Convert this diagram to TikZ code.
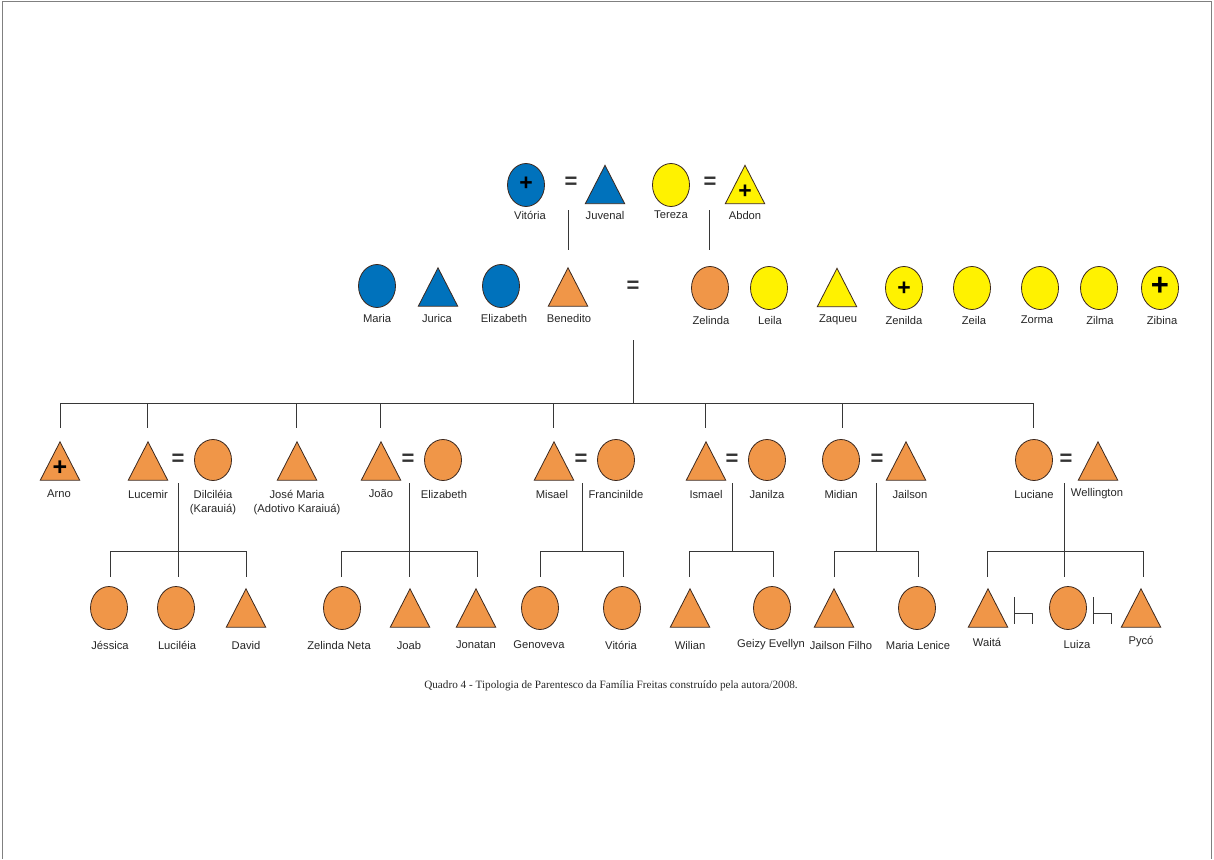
\documentclass[tikz,border=0pt]{standalone}
\usepackage{fontspec}
\setmainfont{Liberation Sans}
\newfontfamily\capfont{Liberation Serif}
\usetikzlibrary{shapes.geometric}
\definecolor{kblue}{RGB}{0,114,188}
\definecolor{kyel}{RGB}{255,242,0}
\definecolor{korg}{RGB}{240,150,72}
\definecolor{outl}{RGB}{60,40,30}
\definecolor{lnc}{RGB}{55,55,55}
\newcommand\kTri[4]{%
  \node[tribox] (#1) at (#2,#3) {};
  \filldraw[fill=#4, draw=outl, line width=0.8pt, line join=miter]
    (#1.south west) -- (#1.south east) -- (#1.north) -- cycle;}
\begin{document}
\begin{tikzpicture}[x=1pt,y=-1pt,
  lab/.style={font=\fontsize{11.2}{13.5}\selectfont, inner sep=0pt, text=black!85, align=center},
  fem/.style={ellipse, draw=outl, line width=0.8pt, minimum width=37pt, minimum height=43pt, inner sep=0pt},
  tribox/.style={rectangle, minimum width=39pt, minimum height=38pt, inner sep=0pt},
  eqs/.style={font=\fontsize{22}{22}\selectfont\bfseries, inner sep=0pt, text=black!80},
  dead/.style={font=\fontsize{23}{23}\selectfont\bfseries, inner sep=0pt, text=black},
  ln/.style={draw=lnc, line width=0.9pt},
]
\useasboundingbox (0,0) rectangle (1214,859);
\draw[draw=gray, line width=1pt] (2,859) -- (2,2) -- (1211.5,2) -- (1211.5,859);

% ---------- generation 1 ----------
\node[fem,fill=kblue] (vitoria) at (526,185) {};
\node[dead] (vitoria-x) at (526,184) {+};
\node[lab] (vitoria-l) at (530,215) {Vitória};
\node[eqs] (eq-a) at (571,183) {=};
\kTri{juvenal}{605}{184.5}{kblue}
\node[lab] (juvenal-l) at (605,215) {Juvenal};
\node[fem,fill=kyel] (tereza) at (671,185) {};
\node[lab] (tereza-l) at (671,215) {Tereza};
\node[eqs] (eq-b) at (710,183) {=};
\kTri{abdon}{745}{184.5}{kyel}
\node[dead] (abdon-x) at (745,192) {+};
\node[lab] (abdon-l) at (745,215) {Abdon};
\coordinate (ma1) at (568,210); \coordinate (ma2) at (568,250);
\coordinate (mb1) at (709,210); \coordinate (mb2) at (709,250);
\draw[ln] (ma1) -- (ma2);
\draw[ln] (mb1) -- (mb2);

% ---------- generation 2 ----------
\node[fem,fill=kblue] (maria) at (377,286) {};
\node[lab] (maria-l) at (377,318) {Maria};
\kTri{jurica}{438}{287}{kblue}
\node[lab] (jurica-l) at (437,318) {Jurica};
\node[fem,fill=kblue] (elizabeth1) at (501,286) {};
\node[lab] (elizabeth1-l) at (504,318) {Elizabeth};
\kTri{benedito}{568}{287}{korg}
\node[lab] (benedito-l) at (569,318) {Benedito};
\node[eqs] (eq-c) at (633,287) {=};
\node[fem,fill=korg] (zelinda) at (710,288) {};
\node[lab] (zelinda-l) at (711,320) {Zelinda};
\node[fem,fill=kyel] (leila) at (769,288) {};
\node[lab] (leila-l) at (770,320) {Leila};
\kTri{zaqueu}{837}{287.5}{kyel}
\node[lab] (zaqueu-l) at (838,320) {Zaqueu};
\node[fem,fill=kyel] (zenilda) at (904,288) {};
\node[dead] (zenilda-x) at (904,289) {+};
\node[lab] (zenilda-l) at (904,320) {Zenilda};
\node[fem,fill=kyel] (zeila) at (972,288) {};
\node[lab] (zeila-l) at (974,320) {Zeila};
\node[fem,fill=kyel] (zorma) at (1040,288) {};
\node[lab] (zorma-l) at (1037,320) {Zorma};
\node[fem,fill=kyel] (zilma) at (1099,288) {};
\node[lab] (zilma-l) at (1100,320) {Zilma};
\node[fem,fill=kyel] (zibina) at (1160,288) {};
\node[dead,font=\fontsize{31}{31}\selectfont\bfseries] (zibina-x) at (1160,286) {+};
\node[lab] (zibina-l) at (1162,320) {Zibina};

% main descent and sibling bus
\coordinate (dc1) at (633,340); \coordinate (dc2) at (633,403);
\draw[ln] (dc1) -- (dc2);
\coordinate (busL) at (60,403); \coordinate (busR) at (1033,403);
\draw[ln] (busL) -- (busR);
\foreach \x/\n in {60/arno,147/lucemir,296/josemaria,380/joao,553/misael,705/ismael,842/midian,1033/luciane}{
  \coordinate (t-\n) at (\x,403); \coordinate (b-\n) at (\x,428);
  \draw[ln] (t-\n) -- (b-\n);}

% ---------- generation 3 ----------
\kTri{arno}{60}{461}{korg}
\node[dead,font=\fontsize{25}{25}\selectfont\bfseries] (arno-x) at (60,468) {+};
\node[lab] (arno-l) at (59,494) {Arno};
\kTri{lucemir}{148}{461}{korg}
\node[lab] (lucemir-l) at (148,494) {Lucemir};
\node[eqs] (eq-d) at (178,460) {=};
\node[fem,fill=korg,minimum height=41pt] (dilcileia) at (213,460) {};
\node[lab] (dilcileia-l) at (213,502.5) {Dilciléia\\(Karauiá)};
\kTri{josemaria}{297}{461}{korg}
\node[lab] (josemaria-l) at (297,502.5) {José Maria\\(Adotivo Karaiuá)};
\kTri{joao}{381}{461}{korg}
\node[lab] (joao-l) at (381,494) {João};
\node[eqs] (eq-e) at (408,460) {=};
\node[fem,fill=korg,minimum height=41pt] (elizabeth2) at (443,460) {};
\node[lab] (elizabeth2-l) at (444,494) {Elizabeth};
\kTri{misael}{554}{461}{korg}
\node[lab] (misael-l) at (552,494) {Misael};
\node[eqs] (eq-f) at (581,460) {=};
\node[fem,fill=korg,minimum height=41pt] (francinilde) at (616,460) {};
\node[lab] (francinilde-l) at (616,494) {Francinilde};
\kTri{ismael}{706}{461}{korg}
\node[lab] (ismael-l) at (706,494) {Ismael};
\node[eqs] (eq-g) at (732,460) {=};
\node[fem,fill=korg,minimum height=41pt] (janilza) at (767,460) {};
\node[lab] (janilza-l) at (767,494) {Janilza};
\node[fem,fill=korg,minimum height=41pt] (midian) at (841,460) {};
\node[lab] (midian-l) at (841,494) {Midian};
\node[eqs] (eq-h) at (877,460) {=};
\kTri{jailson}{906}{461}{korg}
\node[lab] (jailson-l) at (910,494) {Jailson};
\node[fem,fill=korg,minimum height=41pt] (luciane) at (1034,460) {};
\node[lab] (luciane-l) at (1034,494) {Luciane};
\node[eqs] (eq-i) at (1066,460) {=};
\kTri{wellington}{1098}{461}{korg}
\node[lab] (wellington-l) at (1097,494) {Wellington};

% family descents
\foreach \x/\n/\e in {178/luc/577,409/joa/577,582/mis/551,732/ism/551,876/mid/551,1064/lci/577}{
  \coordinate (v1-\n) at (\x,483); \coordinate (v2-\n) at (\x,\e);
  \draw[ln] (v1-\n) -- (v2-\n);}
\foreach \a/\b/\n in {110/246/luc,341/477/joa,540/623/mis,689/773/ism,834/918/mid,987/1143/lci}{
  \coordinate (bl-\n) at (\a,551); \coordinate (br-\n) at (\b,551);
  \coordinate (bl2-\n) at (\a,577); \coordinate (br2-\n) at (\b,577);
  \draw[ln] (bl2-\n) -- (bl-\n) -- (br-\n) -- (br2-\n);}

% ---------- generation 4 ----------
\node[fem,fill=korg] (jessica) at (109,608) {};
\node[lab] (jessica-l) at (110,645) {Jéssica};
\node[fem,fill=korg] (lucileia) at (176,608) {};
\node[lab] (lucileia-l) at (177,645) {Luciléia};
\kTri{david}{246}{608}{korg}
\node[lab] (david-l) at (246,645) {David};
\node[fem,fill=korg] (zelindaneta) at (342,608) {};
\node[lab] (zelindaneta-l) at (339,645) {Zelinda Neta};
\kTri{joab}{410}{608}{korg}
\node[lab] (joab-l) at (409,645) {Joab};
\kTri{jonatan}{476}{608}{korg}
\node[lab] (jonatan-l) at (476,645) {Jonatan};
\node[fem,fill=korg] (genoveva) at (540,608) {};
\node[lab] (genoveva-l) at (539,645) {Genoveva};
\node[fem,fill=korg] (vitoria2) at (622,608) {};
\node[lab] (vitoria2-l) at (621,645) {Vitória};
\kTri{wilian}{690}{608}{korg}
\node[lab] (wilian-l) at (690,645) {Wilian};
\node[fem,fill=korg] (geizy) at (772,608) {};
\node[lab] (geizy-l) at (771,645) {Geizy Evellyn};
\kTri{jailsonf}{834}{608}{korg}
\node[lab] (jailsonf-l) at (841,645) {Jailson Filho};
\node[fem,fill=korg] (marialenice) at (917,608) {};
\node[lab] (marialenice-l) at (918,645) {Maria Lenice};
\kTri{waita}{988}{608}{korg}
\node[lab] (waita-l) at (987,642) {Waitá};
\node[fem,fill=korg] (luiza) at (1068,608) {};
\node[lab] (luiza-l) at (1077,644) {Luiza};
\kTri{pyco}{1141}{608}{korg}
\node[lab] (pyco-l) at (1141,642) {Pycó};

% sibling brackets
\draw[ln] (1014,597) -- (1014,624) (1014,613) -- (1032,613) -- (1032,624);
\draw[ln] (1093,597) -- (1093,624) (1093,613) -- (1111,613) -- (1111,624);

% caption
\node[inner sep=0pt, font=\capfont\fontsize{11.2}{13}\selectfont, text=black!85] (caption) at (611,686)
  {Quadro 4 - Tipologia de Parentesco da Família Freitas construído pela autora/2008.};
\end{tikzpicture}
\end{document}
